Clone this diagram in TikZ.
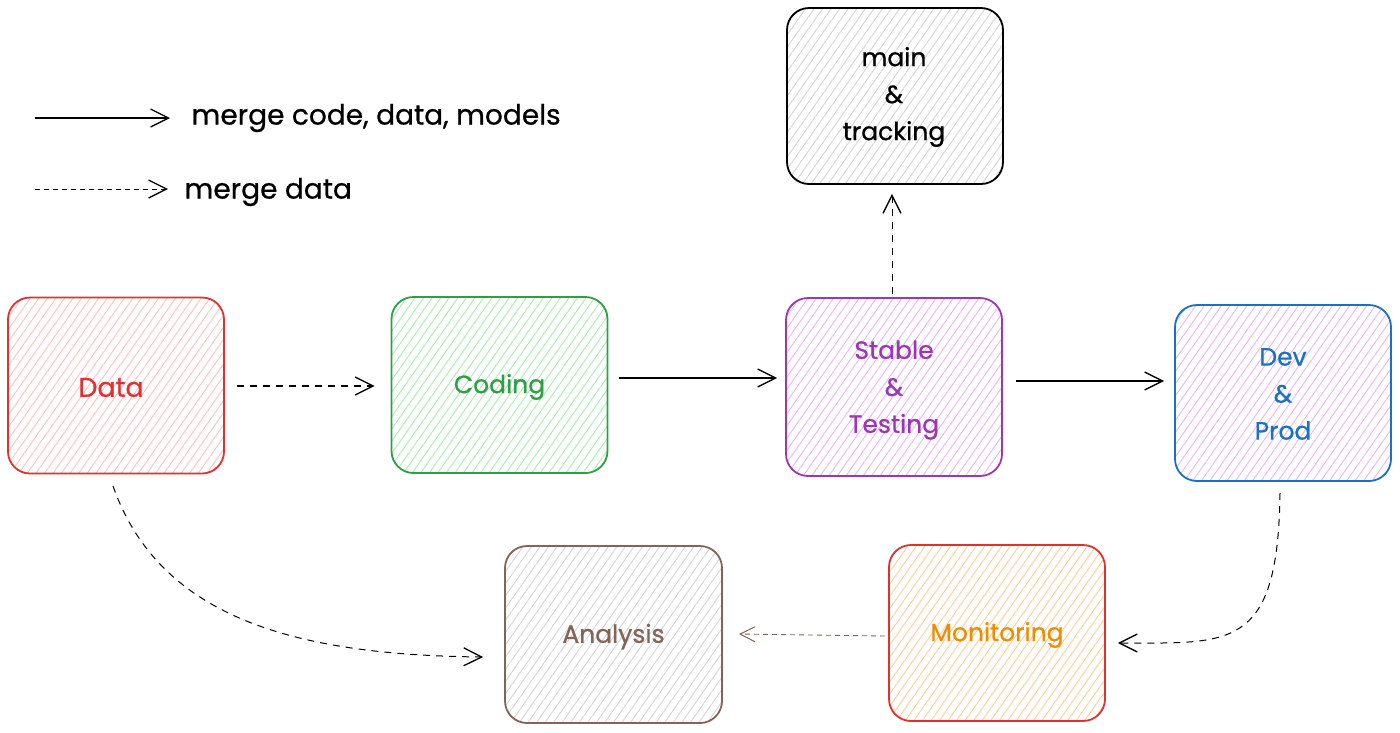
\documentclass[tikz,border=0pt]{standalone}
\usepackage{fontspec}
\setmainfont{Poppins}[FakeBold=0.7]
\usetikzlibrary{arrows.meta,patterns.meta,calc}
\definecolor{dred}{HTML}{E03131}
\definecolor{pred}{HTML}{FFC2C2}
\definecolor{dgreen}{HTML}{2F9E44}
\definecolor{pgreen}{HTML}{A8EEB2}
\definecolor{dpurple}{HTML}{9C36B5}
\definecolor{ppurple}{HTML}{EBB6F8}
\definecolor{dblue}{HTML}{1971C2}
\definecolor{dbrown}{HTML}{846358}
\definecolor{pgrey}{HTML}{D6D6D6}
\definecolor{dorange}{HTML}{F08C00}
\definecolor{porange}{HTML}{FFCF98}
\begin{document}
\begin{tikzpicture}[x=1pt,y=-1pt,
  box/.style={draw, line width=1.8pt, rounded corners=22pt, minimum width=216pt,
    minimum height=176pt, inner sep=0pt, align=center,
    font=\fontsize{25}{37}\selectfont},
  hatch/.style={pattern={Lines[angle=55,distance=7pt,line width=0.9pt]}, pattern color=#1},
  arr/.style={-{Straight Barb[length=18pt,width=18pt,line width=1.3pt]}, line width=1.3pt},
  dsh/.style={dash pattern=on 7pt off 6pt},
  legtext/.style={anchor=west, font=\fontsize{28}{34}\selectfont},
  boxtext/.style={align=center, font=\fontsize{25}{37}\selectfont, inner sep=0pt}
]
\useasboundingbox (0,0) rectangle (1400,732);
\fill[white] (0,0) rectangle (1400,732);

% boxes
\node[box, draw=dred, hatch=pred, text=dred, font=\fontsize{27}{37}\selectfont] (data) at (116,385.5) {};
\node[box, draw=dgreen, hatch=pgreen, text=dgreen] (coding) at (499.5,385) {};
\node[box, draw=dpurple, hatch=ppurple, text=dpurple, minimum height=178pt] (stable) at (894,387) {};
\node[box, draw=black, hatch=pgrey, text=black] (main) at (895,96) {};
\node[box, draw=dblue, hatch=ppurple, text=dblue] (dev) at (1283,393) {};
\node[box, draw=dbrown, hatch=pgrey, text=dbrown, minimum width=217pt, minimum height=177pt] (analysis) at (613.5,634.5) {};
\node[box, draw=dred, hatch=porange, text=dorange] (monitoring) at (997,633) {};

% box texts
\node[boxtext, text=dred, font=\fontsize{27}{37}\selectfont] (datat) at ($(data.center)+(-5,2)$) {Data};
\node[boxtext, text=dgreen] (codingt) at ($(coding.center)+(0,2)$) {Coding};
\node[boxtext, text=dpurple] (stablet) at ($(stable.center)+(0,3)$) {Stable\\\&\\Testing};
\node[boxtext, text=black] (maint) at ($(main.center)+(-1,1)$) {main\\\&\\tracking};
\node[boxtext, text=dblue] (devt) at ($(dev.center)+(0,1)$) {Dev\\\&\\Prod};
\node[boxtext, text=dbrown] (analysist) at ($(analysis.center)+(0,2)$) {Analysis};
\node[boxtext, text=dorange] (monitoringt) at ($(monitoring.center)+(0,2)$) {Monitoring};

% connectors
\draw[arr, dsh] ($(data.east)+(13,0.5)$) -- ($(coding.west)+(-16,1)$);
\draw[arr, line width=1.8pt] ($(coding.east)+(11,-7)$) -- ($(stable.west)+(-8,-9)$);
\draw[arr, line width=1.8pt] ($(stable.east)+(13,-6)$) -- ($(dev.west)+(-10,-12)$);
\draw[arr, dsh, line width=1pt] ($(stable.north)+(-2,-3)$) -- ($(main.south)+(-3,9)$);
\draw[arr, dsh, line width=1pt] ($(data.south)+(-3,12)$) .. controls +(47,134) and +(-184,-2) .. ($(analysis.west)+(-21,22.5)$);
\draw[arr, dsh, line width=1pt] ($(dev.south)+(-3,11)$) .. controls +(-2,158) and +(113,0) .. ($(monitoring.east)+(12,10)$);
\draw[-{Straight Barb[length=15pt,width=15pt,line width=1pt]}, line width=0.9pt, draw=dbrown, dash pattern=on 5pt off 4pt] ($(monitoring.west)+(-3,3)$) -- ($(analysis.east)+(16,-0.5)$);

% legend
\coordinate (l1a) at (35,118);
\coordinate (l1b) at (170,118);
\coordinate (l2a) at (35,189);
\coordinate (l2b) at (168,189);
\node[legtext] (l1t) at (188,118) {merge code, data, models};
\node[legtext] (l2t) at (181,192) {merge data};
\draw[arr] (l1a) -- (l1b);
\draw[arr, dsh, line width=1pt, dash pattern=on 5pt off 4pt] (l2a) -- (l2b);
\end{tikzpicture}
\end{document}
